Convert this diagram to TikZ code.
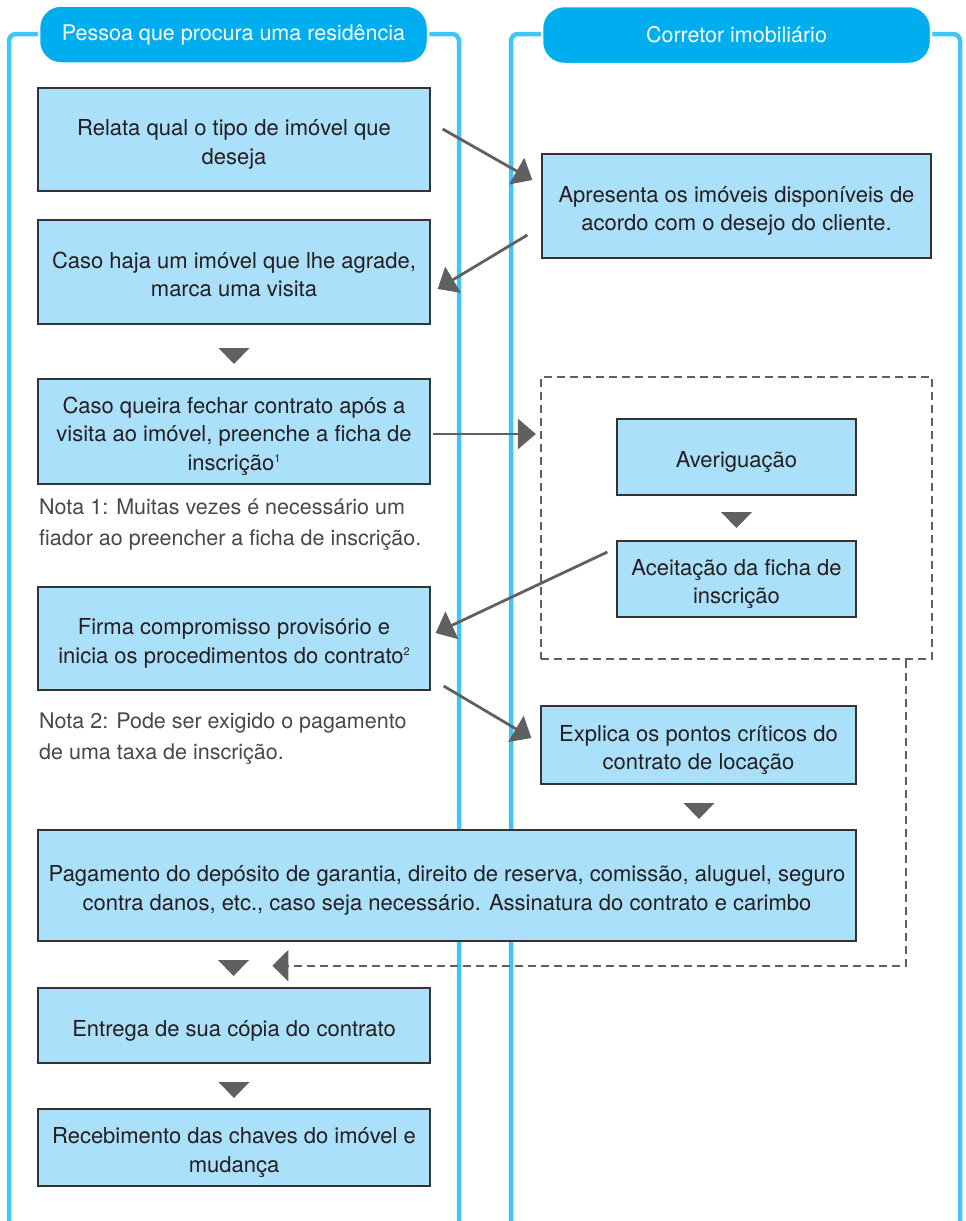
\documentclass[tikz,border=0pt]{standalone}
\usepackage{fontspec}
\setmainfont{TeX Gyre Heros}
\usetikzlibrary{arrows.meta,calc}
\definecolor{lanec}{RGB}{63,198,244}
\definecolor{headc}{RGB}{0,174,239}
\definecolor{boxc}{RGB}{171,224,250}
\definecolor{boxd}{RGB}{51,51,51}
\definecolor{arrc}{RGB}{96,96,96}
\definecolor{txtc}{RGB}{35,31,32}
\definecolor{notec}{RGB}{72,72,72}
\newcommand\bfnt{\fontsize{22}{28.5}\selectfont}
\newcommand\nfnt{\fontsize{21.5}{31}\selectfont}
\newcommand\supnum[1]{\raisebox{8pt}{\fontsize{11}{11}\selectfont #1}}
\newcommand\tstr{\rule{0pt}{26pt}}
\newcommand\bstr{\rule[-5pt]{0pt}{5pt}}
\begin{document}
\begin{tikzpicture}[x=1pt,y=-1pt,
  lane/.style={draw=lanec,line width=4.5pt,rounded corners=7pt},
  pill/.style={fill=headc,draw=white,line width=2.5pt,rounded corners=22pt,
    minimum width=389pt,minimum height=58pt,text=white,
    font=\fontsize{21.5}{26}\selectfont,inner sep=0pt},
  box/.style={fill=boxc,draw=boxd,line width=1.3pt,align=center,
    font=\bfnt,text=txtc,inner sep=0pt},
  notetxt/.style={align=left,font=\nfnt,text=notec,inner sep=0pt,anchor=north west},
  conn/.style={draw=arrc,line width=2.8pt,-{Triangle[length=18pt,width=30pt]}},
  dashbox/.style={draw=arrc,line width=2.2pt,dash pattern=on 8pt off 5pt,inner sep=0pt},
  dashconn/.style={draw=arrc,line width=2.2pt,dash pattern=on 8pt off 5pt,
    -{Triangle[length=16pt,width=31pt]}},
  downmark/.style={fill=arrc,draw=none}
]
\useasboundingbox (0,0) rectangle (966,1221);
\fill[white] (0,0) rectangle (966,1221);

% swimlanes
\draw[lane] (233,34) -- (9,34) -- (9,1240);
\draw[lane] (233,34) -- (459,34) -- (459,1240);
\draw[lane] (736,34) -- (511,34) -- (511,1240);
\draw[lane] (736,34) -- (960,34) -- (960,1240);

% headers
\node[pill] (h1) at (233.5,34.5) {Pessoa que procura uma residência};
\node[pill] (h2) at (736.5,35) {Corretor imobiliário};

% left column boxes
\node[box,minimum width=392pt,minimum height=103pt] (b1) at (234,139.5)
  {\tstr Relata qual o tipo de imóvel que\\deseja\bstr};
\node[box,minimum width=392pt,minimum height=104pt] (b2) at (234,272)
  {\tstr Caso haja um imóvel que lhe agrade,\\marca uma visita\bstr};
\node[box,minimum width=392pt,minimum height=105pt] (b3) at (234,431.5)
  {\tstr Caso queira fechar contrato após a\\visita ao imóvel, preenche a ficha de\\inscrição\supnum{1}\bstr};
\node[notetxt] (n1) at (39,499)
  {Nota 1: Muitas vezes é necessário um\\fiador ao preencher a ficha de inscrição.};
\node[box,minimum width=392pt,minimum height=103pt] (b4) at (234,638.5)
  {\tstr Firma compromisso provisório e\\inicia os procedimentos do contrato\supnum{2}\bstr};
\node[notetxt] (n2) at (39,713)
  {Nota 2: Pode ser exigido o pagamento\\de uma taxa de inscrição.};

% right column
\node[box,minimum width=389pt,minimum height=104pt] (r1) at (736.5,206)
  {\tstr Apresenta os imóveis disponíveis de\\acordo com o desejo do cliente.\bstr};
\node[dashbox,minimum width=391pt,minimum height=282pt] (grp) at (736.5,518) {};
\node[box,minimum width=239pt,minimum height=76pt] (r2) at (736.5,457) {\tstr Averiguação\bstr};
\node[box,minimum width=239pt,minimum height=76pt] (r3) at (736.5,579)
  {\tstr Aceitação da ficha de\\inscrição\bstr};
\node[box,minimum width=315pt,minimum height=78pt] (r4) at (698.5,745)
  {\tstr Explica os pontos críticos do\\contrato de locação\bstr};

% wide box and last steps
\node[box,minimum width=818pt,minimum height=111pt] (b5) at (447,885.5)
  {\tstr Pagamento do depósito de garantia, direito de reserva, comissão, aluguel, seguro\\contra danos, etc., caso seja necessário. Assinatura do contrato e carimbo\bstr};
\node[box,minimum width=392pt,minimum height=75pt] (b6) at (234,1025.5)
  {\tstr Entrega de sua cópia do contrato\bstr};
\node[box,minimum width=392pt,minimum height=77pt] (b7) at (234,1147.5)
  {\tstr Recebimento das chaves do imóvel e\\mudança\bstr};

% down markers
\fill[downmark] (218.5,348) -- (249.5,348) -- (234,364) -- cycle;
\fill[downmark] (721,512) -- (752,512) -- (736.5,528) -- cycle;
\fill[downmark] (683.5,803) -- (714.5,803) -- (699,819) -- cycle;
\fill[downmark] (218,960) -- (249,960) -- (233.5,976) -- cycle;
\fill[downmark] (218.5,1082) -- (249.5,1082) -- (234,1098) -- cycle;

% connectors
\draw[conn] ($(b1.east)+(12,-10.5)$) -- ($(r1.west)+(-9,-26)$);
\draw[conn] ($(r1.west)+(-14,29)$) -- ($(b2.east)+(7,17)$);
\draw[conn] ($(b3.east)+(2,2.5)$) -- ($(grp.west |- b3.east)+(-4,2.5)$);
\draw[conn] ($(r3.west)+(-9,-27)$) -- ($(b4.east)+(5,-5.5)$);
\draw[conn] ($(b4.east)+(13,47.5)$) -- ($(r4.west)+(-9,-7)$);
\coordinate (dj) at ($(b5.south west)+(235,24)$);
\draw[dashconn] ($(grp.south east)+(-27,0)$) |- (dj);
\end{tikzpicture}
\end{document}
